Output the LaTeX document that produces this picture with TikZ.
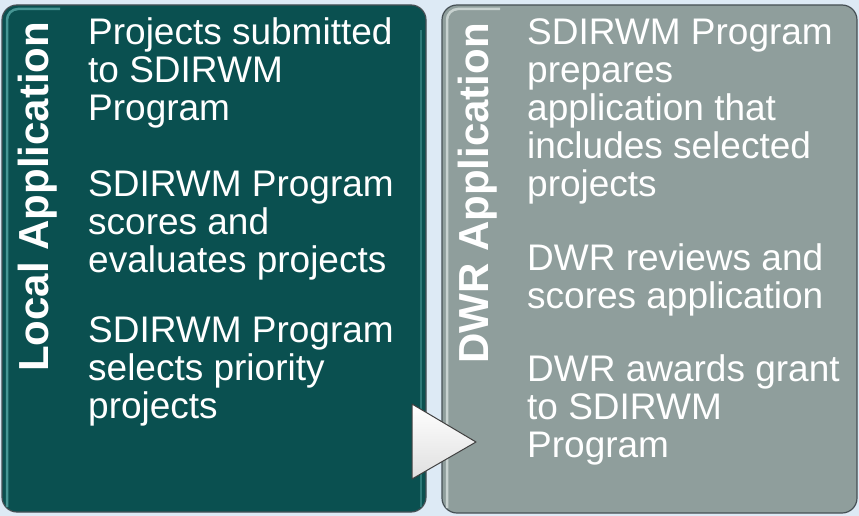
\documentclass[tikz,border=0pt]{standalone}
\usepackage{fontspec}
\setmainfont{Liberation Sans}
\definecolor{bgblue}{RGB}{221,234,245}
\definecolor{tealbox}{RGB}{10,80,80}
\definecolor{tealhi}{RGB}{70,150,148}
\definecolor{graybox}{RGB}{143,158,156}
\definecolor{grayhi}{RGB}{200,210,208}
\definecolor{edgecol}{RGB}{70,80,85}
\tikzset{
  panel/.style={rounded corners=15pt, draw=edgecol, line width=1.2pt},
  bodytext/.style={anchor=base west, inner sep=0pt, text=white,
    font=\fontsize{37}{38}\selectfont},
  titletext/.style={rotate=90, anchor=base west, inner sep=0pt, text=white,
    font=\fontsize{42}{46}\selectfont\bfseries},
}
\newcommand{\itembox}[1]{\parbox[t]{360pt}{\raggedright #1}}
\begin{document}
\begin{tikzpicture}[x=1pt,y=-1pt]
\useasboundingbox (0,0) rectangle (859,516);
\fill[bgblue] (0,0) rectangle (859,516);
% left panel
\filldraw[panel, fill=tealbox] (2,5) rectangle (426,512);
\draw[tealhi, line width=2.5pt, rounded corners=11pt] (7,507) -- (7,9) -- (60,9);
\draw[tealhi!60!tealbox, line width=2pt, rounded corners=11pt] (421,30) -- (421,507);
% right panel
\filldraw[panel, fill=graybox] (442,5) rectangle (857,513);
\draw[grayhi, line width=2.5pt, rounded corners=11pt] (447,508) -- (447,9) -- (500,9);
% titles
\node[titletext] (t1) at (48,372) {Local Application};
\node[titletext] (t2) at (488,364) {DWR Application};
% left items
\node[bodytext] (a1) at (88,45) {\itembox{Projects submitted\\to SDIRWM\\Program}};
\node[bodytext] (a2) at (88,196) {\itembox{SDIRWM Program\\scores and\\evaluates projects}};
\node[bodytext] (a3) at (88,342) {\itembox{SDIRWM Program\\selects priority\\projects}};
% right items
\node[bodytext] (b1) at (527,45) {\itembox{SDIRWM Program\\prepares\\application that\\includes selected\\projects}};
\node[bodytext] (b2) at (527,270) {\itembox{DWR reviews and\\scores application}};
\node[bodytext] (b3) at (527,381) {\itembox{DWR awards grant\\to SDIRWM\\Program}};
% arrow triangle
\coordinate (p1) at (412,404);
\coordinate (p2) at (412,479);
\coordinate (p3) at (476,442);
\shade[top color=white, bottom color=gray!25, draw=black!75, line width=1pt, line join=round]
  (p1) -- (p3) -- (p2) -- cycle;
\end{tikzpicture}
\end{document}
